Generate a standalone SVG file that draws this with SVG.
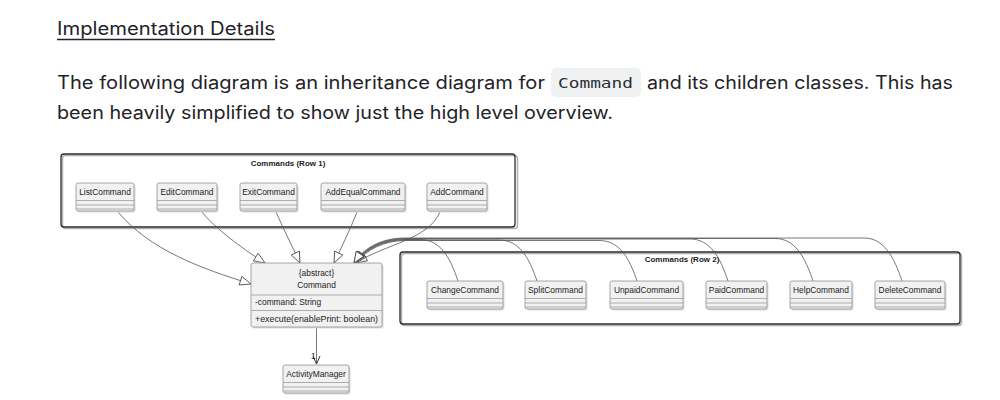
<svg xmlns="http://www.w3.org/2000/svg" width="1000" height="400" viewBox="0 0 1000 400">
<style>
.doc{font-family:Inter,"Noto Sans","Liberation Sans",sans-serif;fill:#1f2328;font-size:18px}
.mono{font-family:"DejaVu Sans Mono","Liberation Mono",monospace;fill:#2a2f35;font-size:14px}
.pkg{fill:none;stroke:#2b2b2b;stroke-width:1.3}
.pkgsh{fill:none;stroke:#b0b0b0;stroke-width:1.5}
.ptitle{font-family:"Liberation Sans",Arial,sans-serif;font-size:8px;font-weight:bold;fill:#222;text-anchor:middle}
.cls{fill:#f1f1f1;stroke:#9c9c9c;stroke-width:0.9}
.clsh{fill:#dcdcdc}
.sep{stroke:#9c9c9c;stroke-width:0.8}
.ct{font-family:"Liberation Sans",Arial,sans-serif;font-size:8.4px;fill:#222;text-anchor:middle}
.ctl{font-family:"Liberation Sans",Arial,sans-serif;font-size:8.4px;fill:#222}
.edge{fill:none;stroke:#555;stroke-width:0.8}
</style>
<defs>
<marker id="tri" markerUnits="userSpaceOnUse" markerWidth="14" markerHeight="12" refX="12" refY="5" orient="auto">
<path d="M1,0.5 L12,5 L1,9.5 Z" fill="#fff" stroke="#444" stroke-width="0.8"/>
</marker>
<marker id="open" markerUnits="userSpaceOnUse" markerWidth="10" markerHeight="10" refX="8" refY="4" orient="auto">
<path d="M0,0.5 L8,4 L0,7.5" fill="none" stroke="#333" stroke-width="1"/>
</marker>
</defs>
<rect width="1000" height="400" fill="#fff"/>

<g id="doc-text">
<text class="doc" x="57" y="35" textLength="218" lengthAdjust="spacingAndGlyphs">Implementation Details</text>
<line x1="57" y1="39.5" x2="275" y2="39.5" stroke="#1f2328" stroke-width="1.3"/>
<text class="doc" x="57" y="89" textLength="488" lengthAdjust="spacingAndGlyphs">The following diagram is an inheritance diagram for</text>
<rect x="551" y="68" width="90" height="29" rx="5" fill="#eff1f3"/>
<text class="mono" x="558" y="88" textLength="75" lengthAdjust="spacingAndGlyphs">Command</text>
<text class="doc" x="647" y="89" textLength="306" lengthAdjust="spacingAndGlyphs">and its children classes. This has</text>
<text class="doc" x="57" y="119" textLength="556" lengthAdjust="spacingAndGlyphs">been heavily simplified to show just the high level overview.</text>
</g>

<g id="pkg-row1">
<rect class="pkgsh" x="62.5" y="155.5" width="455" height="73" rx="3"/>
<rect class="pkg" x="61" y="154" width="454" height="73" rx="3" fill="#fff"/>
<text class="ptitle" x="288" y="166">Commands (Row 1)</text>
</g>
<g id="pkg-row2">
<rect class="pkgsh" x="401.5" y="253.5" width="560" height="72" rx="3"/>
<rect class="pkg" x="400" y="252" width="560" height="72" rx="3" fill="#fff"/>
<text class="ptitle" x="682" y="262">Commands (Row 2)</text>
</g>

<g id="connectors">
<path class="edge" d="M118,212 C150,250 200,268 251,284" marker-end="url(#tri)"/>
<path class="edge" d="M202,212 C215,228 240,247 265,263" marker-end="url(#tri)"/>
<path class="edge" d="M276,212 C284,230 292,246 300,263" marker-end="url(#tri)"/>
<path class="edge" d="M357,212 C350,230 342,246 334,263" marker-end="url(#tri)"/>
<path class="edge" d="M440,212 C428,240 385,244 356,263" marker-end="url(#tri)"/>
<path class="edge" d="M458,281 C450,257 440,239.5 420,239.5 L405,239.5 C385,239.5 366,248 355,263" marker-end="url(#tri)"/>
<path class="edge" d="M537,281 C529,257 519,240 499,240 L405,240 C385,240 366,248 355,263" marker-end="url(#tri)"/>
<path class="edge" d="M637,281 C629,257 619,240.5 599,240.5 L405,240.5 C385,240.5 367,249 356,263" marker-end="url(#tri)"/>
<path class="edge" d="M728,281 C720,257 710,239 690,239 L405,239 C384,239 366,247 355,263" marker-end="url(#tri)"/>
<path class="edge" d="M813,281 C805,257 795,238.5 775,238.5 L405,238.5 C384,238.5 365,247 354,263" marker-end="url(#tri)"/>
<path class="edge" d="M902,281 C894,257 884,238 864,238 L405,238 C384,238 365,246 354,263" marker-end="url(#tri)"/>
<path class="edge" d="M316.5,327 L316.5,364" stroke="#333" marker-end="url(#open)"/>
<text class="ctl" x="311" y="359">1</text>
</g>

<g id="ListCommand">
<rect class="clsh" x="77.5" y="184.5" width="58" height="28" rx="2"/>
<rect class="cls" x="76" y="183" width="58" height="28" rx="2"/>
<line class="sep" x1="76" y1="200.5" x2="134" y2="200.5"/><line class="sep" x1="76" y1="205" x2="134" y2="205"/><line class="sep" x1="76" y1="209" x2="134" y2="209"/>
<text class="ct" x="105" y="195">ListCommand</text>
</g>
<g id="EditCommand">
<rect class="clsh" x="158.5" y="184.5" width="60" height="28" rx="2"/>
<rect class="cls" x="157" y="183" width="60" height="28" rx="2"/>
<line class="sep" x1="157" y1="200.5" x2="217" y2="200.5"/><line class="sep" x1="157" y1="205" x2="217" y2="205"/><line class="sep" x1="157" y1="209" x2="217" y2="209"/>
<text class="ct" x="187" y="195">EditCommand</text>
</g>
<g id="ExitCommand">
<rect class="clsh" x="241.5" y="184.5" width="57" height="28" rx="2"/>
<rect class="cls" x="240" y="183" width="57" height="28" rx="2"/>
<line class="sep" x1="240" y1="200.5" x2="297" y2="200.5"/><line class="sep" x1="240" y1="205" x2="297" y2="205"/><line class="sep" x1="240" y1="209" x2="297" y2="209"/>
<text class="ct" x="268.5" y="195">ExitCommand</text>
</g>
<g id="AddEqualCommand">
<rect class="clsh" x="322.5" y="184.5" width="84" height="28" rx="2"/>
<rect class="cls" x="321" y="183" width="84" height="28" rx="2"/>
<line class="sep" x1="321" y1="200.5" x2="405" y2="200.5"/><line class="sep" x1="321" y1="205" x2="405" y2="205"/><line class="sep" x1="321" y1="209" x2="405" y2="209"/>
<text class="ct" x="363" y="195">AddEqualCommand</text>
</g>
<g id="AddCommand">
<rect class="clsh" x="428.5" y="184.5" width="60" height="28" rx="2"/>
<rect class="cls" x="427" y="183" width="60" height="28" rx="2"/>
<line class="sep" x1="427" y1="200.5" x2="487" y2="200.5"/><line class="sep" x1="427" y1="205" x2="487" y2="205"/><line class="sep" x1="427" y1="209" x2="487" y2="209"/>
<text class="ct" x="457" y="195">AddCommand</text>
</g>

<g id="Command">
<rect class="clsh" x="252.5" y="264.5" width="131" height="64" rx="2"/>
<rect class="cls" x="251" y="263" width="131" height="64" rx="2"/>
<line class="sep" x1="251" y1="295" x2="382" y2="295"/>
<line class="sep" x1="251" y1="310.5" x2="382" y2="310.5"/>
<text class="ct" x="316.5" y="276">{abstract}</text>
<text class="ct" x="316.5" y="287.5">Command</text>
<text class="ctl" x="255" y="305">-command: String</text>
<text class="ctl" x="255" y="322" textLength="123" lengthAdjust="spacingAndGlyphs">+execute(enablePrint: boolean)</text>
</g>

<g id="ActivityManager">
<rect class="clsh" x="284.5" y="366.5" width="66" height="28" rx="2"/>
<rect class="cls" x="283" y="365" width="66" height="28" rx="2"/>
<line class="sep" x1="283" y1="382.5" x2="349" y2="382.5"/><line class="sep" x1="283" y1="387" x2="349" y2="387"/><line class="sep" x1="283" y1="391" x2="349" y2="391"/>
<text class="ct" x="316" y="377">ActivityManager</text>
</g>

<g id="ChangeCommand">
<rect class="clsh" x="428.5" y="282.5" width="76" height="28" rx="2"/>
<rect class="cls" x="427" y="281" width="76" height="28" rx="2"/>
<line class="sep" x1="427" y1="298.5" x2="503" y2="298.5"/><line class="sep" x1="427" y1="303" x2="503" y2="303"/><line class="sep" x1="427" y1="307" x2="503" y2="307"/>
<text class="ct" x="465" y="293">ChangeCommand</text>
</g>
<g id="SplitCommand">
<rect class="clsh" x="526.5" y="282.5" width="61" height="28" rx="2"/>
<rect class="cls" x="525" y="281" width="61" height="28" rx="2"/>
<line class="sep" x1="525" y1="298.5" x2="586" y2="298.5"/><line class="sep" x1="525" y1="303" x2="586" y2="303"/><line class="sep" x1="525" y1="307" x2="586" y2="307"/>
<text class="ct" x="555.5" y="293">SplitCommand</text>
</g>
<g id="UnpaidCommand">
<rect class="clsh" x="611.5" y="282.5" width="73" height="28" rx="2"/>
<rect class="cls" x="610" y="281" width="73" height="28" rx="2"/>
<line class="sep" x1="610" y1="298.5" x2="683" y2="298.5"/><line class="sep" x1="610" y1="303" x2="683" y2="303"/><line class="sep" x1="610" y1="307" x2="683" y2="307"/>
<text class="ct" x="646.5" y="293">UnpaidCommand</text>
</g>
<g id="PaidCommand">
<rect class="clsh" x="707.5" y="282.5" width="61" height="28" rx="2"/>
<rect class="cls" x="706" y="281" width="61" height="28" rx="2"/>
<line class="sep" x1="706" y1="298.5" x2="767" y2="298.5"/><line class="sep" x1="706" y1="303" x2="767" y2="303"/><line class="sep" x1="706" y1="307" x2="767" y2="307"/>
<text class="ct" x="736.5" y="293">PaidCommand</text>
</g>
<g id="HelpCommand">
<rect class="clsh" x="791.5" y="282.5" width="62" height="28" rx="2"/>
<rect class="cls" x="790" y="281" width="62" height="28" rx="2"/>
<line class="sep" x1="790" y1="298.5" x2="852" y2="298.5"/><line class="sep" x1="790" y1="303" x2="852" y2="303"/><line class="sep" x1="790" y1="307" x2="852" y2="307"/>
<text class="ct" x="821" y="293">HelpCommand</text>
</g>
<g id="DeleteCommand">
<rect class="clsh" x="876.5" y="282.5" width="70" height="28" rx="2"/>
<rect class="cls" x="875" y="281" width="70" height="28" rx="2"/>
<line class="sep" x1="875" y1="298.5" x2="945" y2="298.5"/><line class="sep" x1="875" y1="303" x2="945" y2="303"/><line class="sep" x1="875" y1="307" x2="945" y2="307"/>
<text class="ct" x="910" y="293">DeleteCommand</text>
</g>
</svg>
